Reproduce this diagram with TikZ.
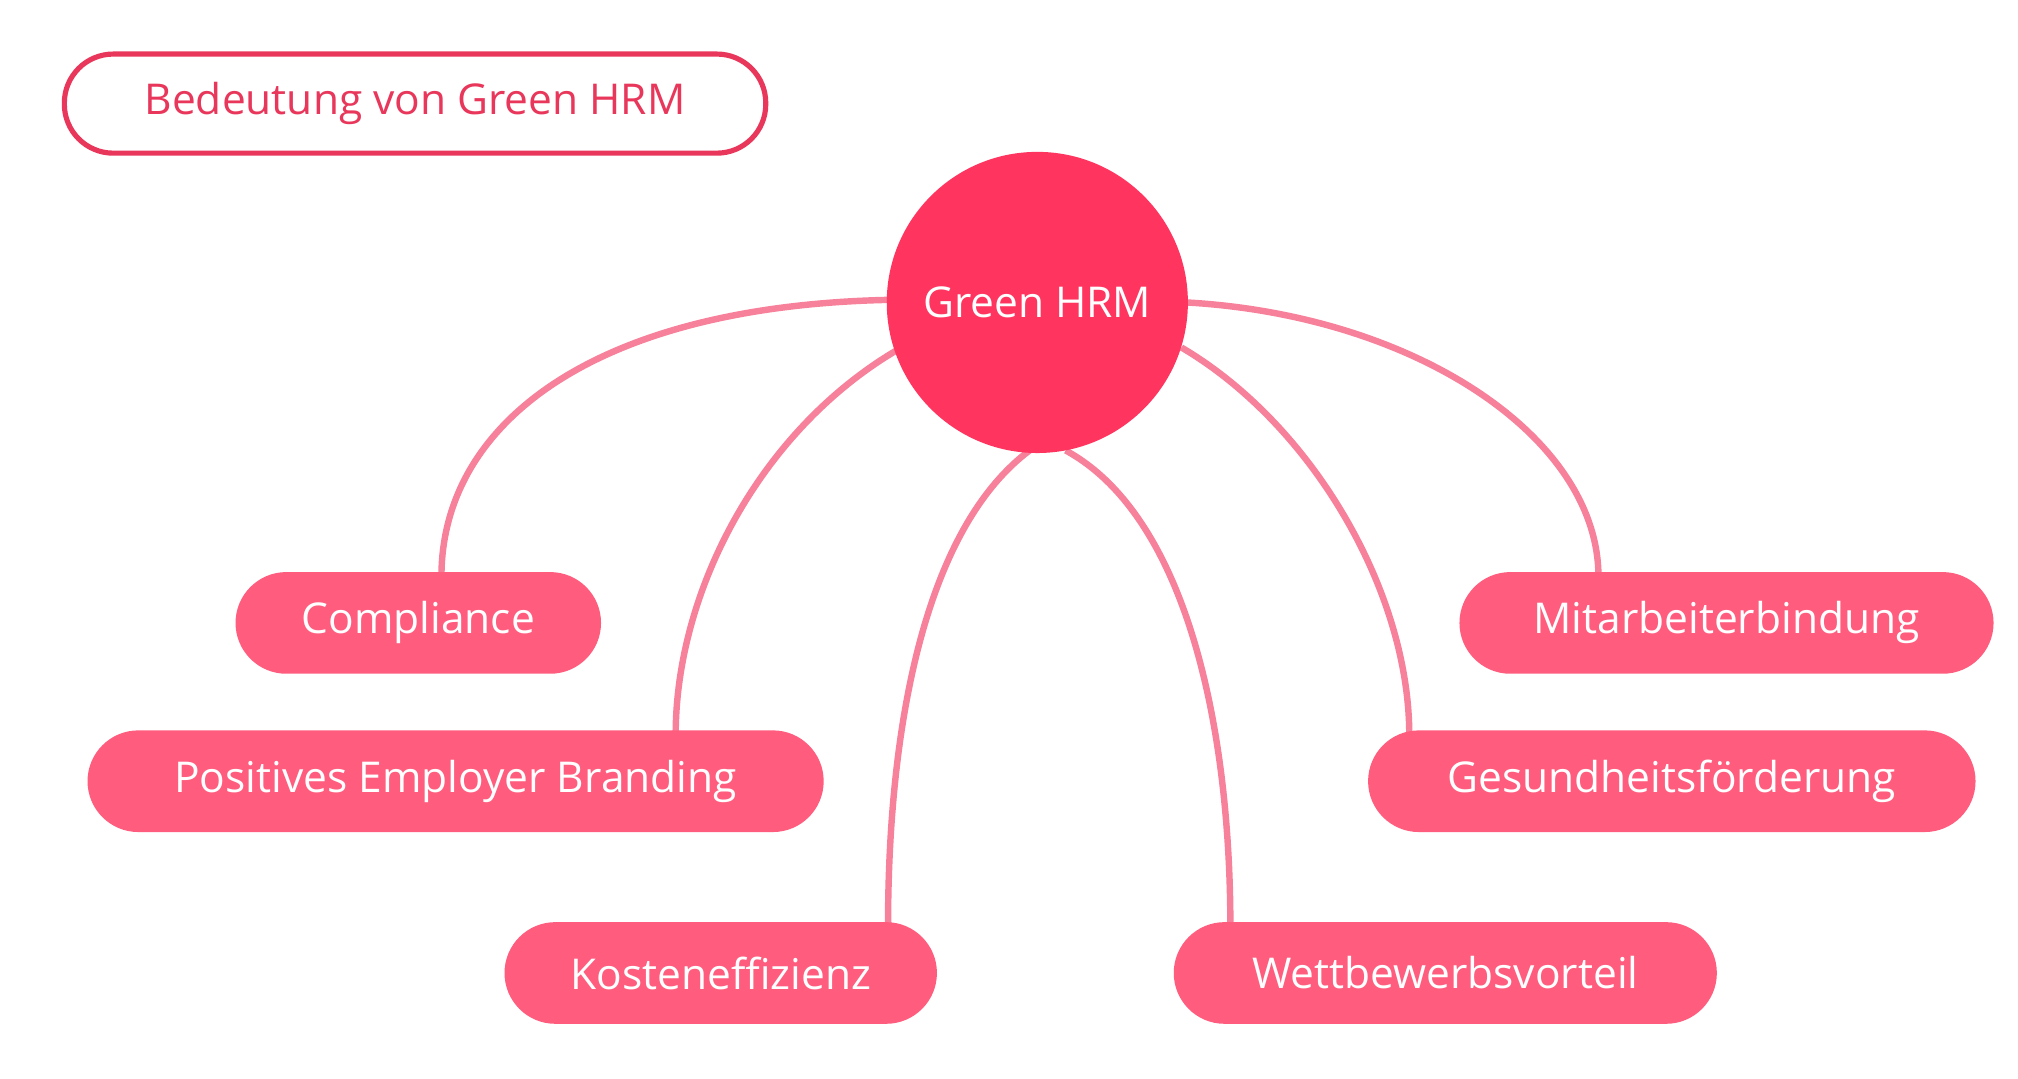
\documentclass[tikz,border=0pt]{standalone}
\usepackage{fontspec}
\setmainfont{Open Sans}
\definecolor{hred}{HTML}{FF3560}
\definecolor{pill}{HTML}{FF5C7E}
\definecolor{conn}{HTML}{F7809A}
\definecolor{tred}{HTML}{E8375A}
\begin{document}
\begin{tikzpicture}[x=1pt,y=-1pt,
  pillst/.style={rounded corners=39.5pt,fill=pill,text=white,minimum height=79pt,font=\fontsize{33}{36}\selectfont,inner sep=0pt},
  cn/.style={draw=conn,line width=5pt}]
\useasboundingbox (0,0) rectangle (1568,838);
\node[rounded corners=38pt,draw=tred,line width=4pt,fill=white,text=tred,minimum width=545pt,minimum height=77pt,font=\fontsize{33}{36}\selectfont] (title) at (322.5,80.5) {Bedeutung von Green HRM};
\coordinate (s1) at (690,233); \coordinate (s2) at (697,272); \coordinate (s3) at (800,350);
\coordinate (s4) at (828,350); \coordinate (s5) at (918,270); \coordinate (s6) at (922,235);
\coordinate (e1) at (343,448); \coordinate (e2) at (525,571); \coordinate (e3) at (690,720);
\coordinate (e4) at (956,720); \coordinate (e5) at (1095,571); \coordinate (e6) at (1242,448);
\draw[cn] (s1) .. controls (460,238) and (343,330) .. (e1);
\draw[cn] (s2) .. controls (590,335) and (525,460) .. (e2);
\draw[cn] (s3) .. controls (720,410) and (690,560) .. (e3);
\draw[cn] (s4) .. controls (920,400) and (956,560) .. (e4);
\draw[cn] (s5) .. controls (1020,330) and (1095,460) .. (e5);
\draw[cn] (s6) .. controls (1100,245) and (1242,340) .. (e6);
\node[circle,fill=hred,minimum size=234pt,text=white,font=\fontsize{33}{36}\selectfont] (c) at (806,235) {Green HRM};
\node[pillst,minimum width=284pt] (a) at (325,484) {Compliance};
\node[pillst,minimum width=572pt] (b) at (354,607) {Positives Employer Branding};
\node[pillst,minimum width=336pt] (k) at (560,756) {Kosteneffizienz};
\node[pillst,minimum width=422pt] (w) at (1123,756) {Wettbewerbsvorteil};
\node[pillst,minimum width=472pt] (g) at (1299,607) {Gesundheitsförderung};
\node[pillst,minimum width=415pt] (m) at (1341.5,484) {Mitarbeiterbindung};
\end{tikzpicture}
\end{document}
